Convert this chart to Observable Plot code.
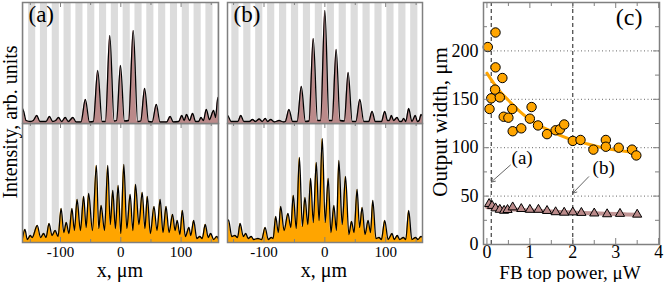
<!DOCTYPE html>
<html><head><meta charset="utf-8">
<script src="https://cdn.jsdelivr.net/npm/d3@7"></script>
<script src="https://cdn.jsdelivr.net/npm/@observablehq/plot@0.6"></script>
<style>
body{margin:0;background:#fff;}
#fig{position:relative;width:664px;height:282px;overflow:hidden;font-family:"Liberation Serif","DejaVu Serif",serif;}
#fig svg{position:absolute;overflow:visible;}
.t{position:absolute;white-space:nowrap;font-family:"Liberation Serif",serif;color:#000;line-height:1;}
</style></head><body><div id="fig"></div>
<script>
// ---------- data: panels (a) and (b), intensity profiles [x (µm), intensity (arb. units)]
const stripeCenters = [-166.6,-147,-127.4,-107.8,-88.2,-68.6,-49,-29.4,-9.8,9.8,29.4,49,68.6,88.2,107.8,127.4,147,166.6];
const xTicksMajor = [-100, 0, 100];
const xTicksMinor = [-150, -50, 50, 150];

const profileATop = [[-163,15],[-161,12],[-157,3],[-150,2],[-145,3],[-139.4,8],[-134,2],[-124,2],[-118.3,7],[-113,2],[-108,3],[-103.3,6],[-98,2],[-92.2,6],[-87,2],[-79.4,6],[-74,1.5],[-66,1.5],[-58.8,24],[-52,1.5],[-45.5,2],[-38.3,53],[-31,2],[-25.5,2],[-18.3,88],[-11,2.5],[-7,3],[-0.5,58],[6,2.5],[13,3],[20.6,93],[28,2],[33,2.5],[39.5,35],[46,2],[52,1.5],[58.9,19],[65,1.5],[76,1.5],[81.7,7],[87,1.5],[96,2],[101.2,8],[105,3],[109,9],[114,3],[119,10],[124,2],[129,2],[133,6],[137,3],[141.7,14],[147,4],[153.9,13],[157,6],[161,26],[163,19]];

const profileABottom = [[-163,4],[-159,13],[-155,3],[-150,7],[-147,5],[-138.5,17],[-133,5],[-128,9],[-124,5],[-119,19],[-114,7],[-109,12],[-104,6],[-99,34],[-94.5,10],[-90.5,20],[-86,9],[-81,34],[-77,12],[-72.5,43],[-67,12],[-61.6,46],[-57.5,15],[-53.3,49],[-47,12],[-40.5,77],[-36.5,14],[-32.7,37],[-27,12],[-21.6,77],[-17.5,18],[-13.3,52],[-9,14],[-4.4,57],[0,9],[5,78],[10,14],[15.5,48],[20,12],[24.4,58],[30,18],[35.5,50],[40,14],[43.9,46],[49,9],[55,36],[60,12],[65.2,43],[70,10],[75,36],[80,10],[85.8,28],[90,12],[93.5,22],[98,8],[102,32],[107,6],[113,15],[116,7],[120.8,22],[126,4],[131,6],[135,4],[140,18],[145,5],[149,9],[154,3],[159,6],[163,2]];

const profileBTop = [[-163,6],[-160,8],[-154,2],[-143,2],[-138.2,8],[-133,2],[-124,2],[-119,4],[-114,2],[-108,4.5],[-103,2],[-98,5],[-94,2],[-89,4],[-83,1.5],[-75.3,3],[-68,1.5],[-65,2],[-59,14],[-53,2],[-45.5,2],[-38.7,37],[-32,2],[-26,2.5],[-19.1,85],[-12,3],[-7,3],[0,113],[7,3],[12,3],[18.6,74],[25,3],[32,2.5],[38.3,51],[45,2],[51,2],[57.5,24],[64,2],[72,2],[77.6,12],[83,2],[93,2],[98.4,12],[103,3],[106,3],[109.3,8],[113,3],[118.6,6],[123,2],[126,2],[129.5,5],[133,2],[137.8,15],[143,2],[148.7,8],[152,2],[155,3],[158,9],[163,3]];

const profileBBottom = [[-163,10],[-158.4,22.7],[-153,6],[-148,7],[-143.5,5],[-139.3,19],[-134,6],[-130,9],[-126,4],[-121,6],[-117,3],[-110,4],[-104,3],[-98.2,15],[-93,3],[-88,5],[-85,4],[-80.8,26],[-76.5,10],[-72.6,36],[-67,12],[-60.6,29],[-56,15],[-51.9,47],[-47,14],[-41.8,85],[-37,16],[-32.7,45],[-28,18],[-23.4,64],[-19,20],[-14.1,80],[-9.5,22],[-4.2,104],[0.5,20],[5.5,64],[10,10],[14.8,37],[19,12],[23,82],[28.5,18],[34,66],[39.5,8],[43.8,21],[48,10],[53,53],[57,15],[61.3,35],[66,8],[71.1,22],[75,10],[78.8,42],[84,4],[89,5],[93,3],[98.4,22],[104,3],[110.5,9],[114,3],[119,7],[123,3],[129,5],[133,3],[137.8,32],[143,3],[149,5],[153,3],[158,6],[163,4]];

// ---------- data: panel (c)
const powerCircles = [0.02,0.06,0.1,0.2,0.2,0.19,0.3,0.36,0.39,0.5,0.59,0.6,0.8,1.0,1.04,1.19,1.4,1.6,1.7,1.8,2.0,2.18,2.48,2.77,2.77,3.07,3.38,3.48];
const widthCircles = [204,140,151,219,183,160,152,172,132,131,140,117,120,130,142,123,114,118,119,124,107,108,98,108,101,100,98,92];
const powerTriangles = [0.05,0.12,0.2,0.3,0.4,0.48,0.6,0.8,1.0,1.2,1.4,1.6,1.8,2.0,2.2,2.5,2.8,3.1,3.5];
const widthTriangles = [42,40,37.5,36,35,35.8,38.5,36.8,36,36,34.8,33.5,33,33.3,32.8,32.2,31.4,31.8,31];
const fitPower = [0,0.25,0.5,0.75,1,1.25,1.5,1.75,2,2.25,2.5,2.75,3,3.25,3.5];
const fitWide = [177,161,149,138,129,122,117,112,108,105,102,99.5,97.5,96,95];
const fitNarrow = [38.5,37.5,36.5,35.8,35.2,34.6,34,33.5,33,32.6,32.2,31.8,31.4,31.1,30.8];
const gridWidths = [50,100,150,200];
const markedPowers = [0.1, 2];
const yTicksC = [0,50,100,150,200];
const yTicksCMinor = [25,75,125,175,225];
const xTicksC = [0,1,2,3,4];
const xTicksCMinor = [0.5,1.5,2.5,3.5];
const annotations = [
  {label:"(a)", x:0.82, y:89, x1:0.545, y1:82, x2:0.1, y2:64.5},
  {label:"(b)", x:2.72, y:79, x1:2.37, y1:70, x2:2.0, y2:53}
];

// ---------- drawing
const fig = document.getElementById("fig");
const FONT = "Liberation Serif, DejaVu Serif, serif";
const FRAME = "#808080";

function place(el, left, top){ el.style.left = left+"px"; el.style.top = top+"px"; fig.appendChild(el); }
function label(text, cx, cy, size, rotate){
  const d = document.createElement("div"); d.className = "t"; d.textContent = text;
  d.style.fontSize = size+"px"; d.style.left = cx+"px"; d.style.top = cy+"px";
  d.style.transform = "translate(-50%,-50%)" + (rotate ? " rotate(-90deg)" : "");
  fig.appendChild(d);
}

function profile(data, o){
  const isTop = o.top;
  const H = isTop ? 123 : 159;
  const mT = isTop ? 2 : 0, mB = isTop ? 0 : 40;
  const ph = H - mT - mB;
  return Plot.plot({
    width: o.width, height: H, marginLeft: o.mL, marginRight: o.mR, marginTop: mT, marginBottom: mB,
    style: {fontFamily: FONT, fontSize: "15px", background: "transparent", overflow: "visible"},
    x: isTop ? {domain: o.domain, axis: null}
             : {domain: o.domain, ticks: xTicksMajor, tickSize: 0, tickPadding: 4, tickFormat: d => String(d), label: null},
    y: {domain: [0, ph], axis: null},
    marks: [
      Plot.rect(stripeCenters, {x1: d => d - 5.9, x2: d => d + 5.9, fill: "#dcdcdc", clip: true}),
      Plot.areaY(data, {x: d => d[0], y: d => d[1], fill: o.fill, curve: "monotone-x", clip: true}),
      Plot.lineY(data, {x: d => d[0], y: d => d[1], stroke: "#000", strokeWidth: 1.3, curve: "monotone-x", clip: true}),
      Plot.tickX(xTicksMajor, {x: d => d, insetBottom: ph - 5, stroke: FRAME}),
      Plot.tickX(xTicksMinor, {x: d => d, insetBottom: ph - 3, stroke: FRAME}),
      ...(isTop ? [] : [
        Plot.tickX(xTicksMajor, {x: d => d, insetTop: ph - 5, stroke: FRAME}),
        Plot.tickX(xTicksMinor, {x: d => d, insetTop: ph - 3, stroke: FRAME})
      ]),
      ...(o.tag ? [Plot.text([o.tag], {text: d => d, frameAnchor: "top-left", dx: 6, dy: 3, fontSize: 23})] : []),
      Plot.frame({stroke: FRAME, strokeWidth: 1.5})
    ]
  });
}

const A = {width: 222, mL: 22, mR: 4, domain: [-163, 162]};
const B = {width: 201, mL: 5, mR: 1, domain: [-160, 160.5]};
const BROWN = "#bb8a8a", ORANGE = "#ffa500";

place(profile(profileABottom, {...A, top: false, fill: ORANGE}), 0, 123);
place(profile(profileATop, {...A, top: true, fill: BROWN, tag: "(a)"}), 0, 0);
place(profile(profileBBottom, {...B, top: false, fill: ORANGE}), 222, 123);
place(profile(profileBTop, {...B, top: true, fill: BROWN, tag: "(b)"}), 222, 0);

const pw = 244 - 63 - 5, ph = 282 - 2 - 38;
const fitRows = fitPower.map((p, i) => ({p, wide: fitWide[i], narrow: fitNarrow[i]}));
const circleRows = powerCircles.map((p, i) => ({p, w: widthCircles[i]}));
const triRows = powerTriangles.map((p, i) => ({p, w: widthTriangles[i]}));
const panelC = Plot.plot({
  width: 244, height: 282, marginLeft: 63, marginRight: 5, marginTop: 2, marginBottom: 38,
  style: {fontFamily: FONT, fontSize: "18px", background: "transparent", overflow: "visible"},
  x: {domain: [-0.08, 4.02], ticks: xTicksC, tickSize: 0, tickPadding: 1, tickFormat: d => String(d), label: null},
  y: {domain: [0, 250], ticks: yTicksC, tickSize: 0, tickPadding: 5, tickFormat: d => String(d), label: null},
  marks: [
    Plot.ruleY(gridWidths, {y: d => d, stroke: "#666", strokeDasharray: "1,2.5", strokeWidth: 1}),
    Plot.ruleX(markedPowers, {x: d => d, stroke: "#000", strokeDasharray: "4,3", strokeWidth: 0.9}),
    Plot.line(fitRows, {x: "p", y: "narrow", stroke: "#c09494", strokeWidth: 4, curve: "natural"}),
    Plot.line(fitRows, {x: "p", y: "wide", stroke: ORANGE, strokeWidth: 3, curve: "natural"}),
    Plot.dot(triRows, {x: "p", y: "w", symbol: "triangle", r: 3.4, fill: BROWN, stroke: "#000", strokeWidth: 1}),
    Plot.dot(circleRows, {x: "p", y: "w", r: 4.7, fill: ORANGE, stroke: "#000", strokeWidth: 1}),
    Plot.arrow(annotations, {x1: "x1", y1: "y1", x2: "x2", y2: "y2", stroke: "#555", strokeWidth: 0.9, headLength: 7}),
    Plot.text(annotations, {x: "x", y: "y", text: "label", fontSize: 19}),
    Plot.text(["(c)"], {text: d => d, frameAnchor: "top-right", dx: -17, dy: 5, fontSize: 24}),
    Plot.tickY(yTicksC, {y: d => d, insetRight: pw - 6, stroke: FRAME}),
    Plot.tickY(yTicksCMinor, {y: d => d, insetRight: pw - 4, stroke: FRAME}),
    Plot.tickY(yTicksC, {y: d => d, insetLeft: pw - 6, stroke: FRAME}),
    Plot.tickY(yTicksCMinor, {y: d => d, insetLeft: pw - 4, stroke: FRAME}),
    Plot.tickX(xTicksC, {x: d => d, insetTop: ph - 6, stroke: FRAME}),
    Plot.tickX(xTicksCMinor, {x: d => d, insetTop: ph - 4, stroke: FRAME}),
    Plot.tickX(xTicksC, {x: d => d, insetBottom: ph - 6, stroke: FRAME}),
    Plot.tickX(xTicksCMinor, {x: d => d, insetBottom: ph - 4, stroke: FRAME}),
    Plot.frame({stroke: FRAME, strokeWidth: 1.5})
  ]
});
place(panelC, 420, 0);

label("Intensity, arb. units", 10, 122, 20, true);
label("x, \u03bcm", 120, 270, 20);
label("x, \u03bcm", 324, 270, 20);
label("Output width, \u03bcm", 440, 122, 21, true);
label("FB top power, \u03bcW", 570, 271.5, 19);
</script></body></html>
